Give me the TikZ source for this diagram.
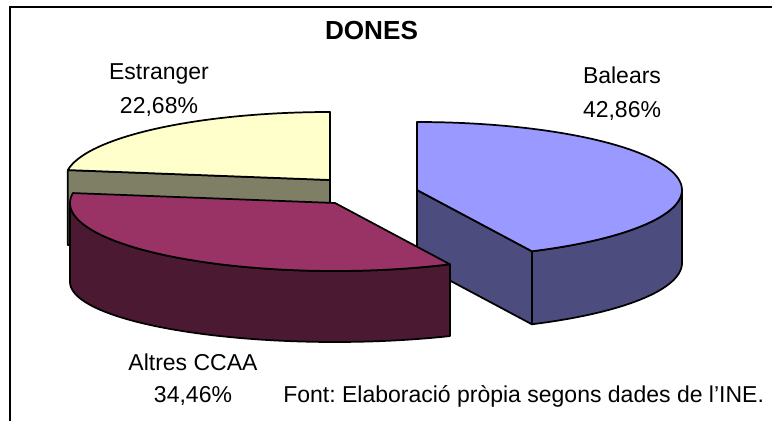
\documentclass[tikz,border=0pt]{standalone}
\usepackage{fontspec}
\setmainfont{Liberation Sans}
\frenchspacing
\definecolor{balT}{HTML}{9999FF}
\definecolor{balS}{HTML}{4C4C7F}
\definecolor{altT}{HTML}{993366}
\definecolor{altS}{HTML}{4C1933}
\definecolor{estT}{HTML}{FFFFCC}
\definecolor{estS}{HTML}{7F7F66}
\tikzset{
  face/.style={draw=black, line width=1.3pt, line join=round},
  lbl/.style={font=\fontsize{17.25}{20}\selectfont, inner sep=0pt, anchor=base},
}
\begin{document}
\begin{tikzpicture}[x=0.75pt,y=0.75pt]
\useasboundingbox (0,0) rectangle (772,-421);
\clip (0,0) rectangle (772,-421);
\fill[white] (0,0) rectangle (772,-421);
% frame
\draw[line width=1.5pt] (800,-7) -- (10,-7) -- (10,-440);
% title
\node[lbl, font=\fontsize{19.6}{22}\selectfont\bfseries] (title) at (371.5,-39) {DONES};
% ---------- Balears ----------
\path[face, fill=balS] (417,-190) -- (531.9,-251.3) -- (531.9,-324.3) -- (417,-263) -- cycle;
\path[face, fill=balS] plot[domain=-64.3:0, samples=40] ({417+265*cos(\x)},{-190+68*sin(\x)})
  -- plot[domain=0:-64.3, samples=40] ({417+265*cos(\x)},{-263+68*sin(\x)}) -- cycle;
\path[face, fill=balT] (417,-190) -- plot[domain=-64.3:90, samples=80] ({417+265*cos(\x)},{-190+68*sin(\x)}) -- cycle;
% ---------- Estranger ----------
\path[face, fill=estS] (330,-180) -- (67.8,-170.1) -- (67.8,-245) -- (330,-255) -- cycle;
\path[face, fill=estT] (330,-180) -- plot[domain=90:171.6, samples=50] ({330+265*cos(\x)},{-180+68*sin(\x)}) -- cycle;
% ---------- Altres CCAA ----------
\path[face, fill=altS] plot[domain=180:295.7, samples=60] ({335+265*cos(\x)},{-203+68*sin(\x)})
  -- plot[domain=295.7:180, samples=60] ({335+265*cos(\x)},{-282+60*sin(\x)}) -- cycle;
\path[face, fill=altT] (335,-203) -- plot[domain=171.6:295.7, samples=70] ({335+265*cos(\x)},{-203+68*sin(\x)}) -- cycle;
% labels
\node[lbl] (estname) at (159,-79) {Estranger};
\node[lbl] (estpct) at (159,-113) {22,68\%};
\node[lbl] (balname) at (622,-83) {Balears};
\node[lbl] (balpct) at (622,-117) {42,86\%};
\node[lbl] (altname) at (193,-370) {Altres CCAA};
\node[lbl] (altpct) at (193,-402) {34,46\%};
\node[lbl, anchor=base west] (source) at (283,-402) {Font: Elaboració pròpia segons dades de l’INE.};
\end{tikzpicture}
\end{document}
